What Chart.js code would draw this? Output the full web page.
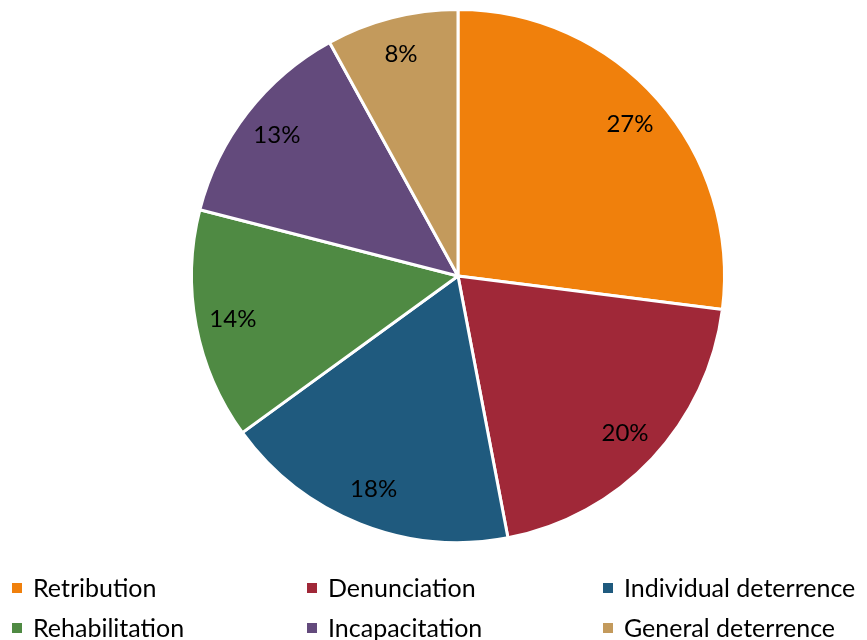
<!DOCTYPE html>
<html>
<head>
<meta charset="utf-8">
<script src="https://cdn.jsdelivr.net/npm/chart.js@4/dist/chart.umd.min.js"></script>
<style>
  html, body { margin: 0; padding: 0; background: #fff; }
  #box { width: 867px; height: 640px; }
</style>
</head>
<body>
<div id="box"><canvas id="pieChart"></canvas></div>
<script>
var labels = ['Retribution', 'Denunciation', 'Individual deterrence', 'Rehabilitation', 'Incapacitation', 'General deterrence'];
var shares = [27, 20, 18, 14, 13, 8];
var colors = ['#F0800C', '#A02838', '#1F5A7E', '#4F8A43', '#634A7C', '#C39A5C'];

var FONT = 'Lato, "Open Sans", sans-serif';

// percent text inside each slice
var sliceLabels = {
  id: 'sliceLabels',
  afterDatasetsDraw: function(chart) {
    var ctx = chart.ctx;
    var meta = chart.getDatasetMeta(0);
    ctx.save();
    ctx.font = '24px ' + FONT;
    ctx.fillStyle = '#000';
    ctx.textAlign = 'center';
    ctx.textBaseline = 'middle';
    meta.data.forEach(function(arc, i) {
      var p = arc.getProps(['x', 'y', 'startAngle', 'endAngle', 'outerRadius'], true);
      var mid = (p.startAngle + p.endAngle) / 2;
      var r = p.outerRadius * 0.86;
      ctx.fillText(shares[i] + '%', p.x + Math.cos(mid) * r, p.y + Math.sin(mid) * r);
    });
    ctx.restore();
  }
};

// three-column legend under the pie
var gridLegend = {
  id: 'gridLegend',
  afterDraw: function(chart) {
    var ctx = chart.ctx;
    var colX = [12, 307, 603];
    var rowY = [588, 628];
    ctx.save();
    ctx.font = '25px ' + FONT;
    ctx.textBaseline = 'middle';
    labels.forEach(function(name, i) {
      var x = colX[i % 3];
      var y = rowY[Math.floor(i / 3)];
      ctx.fillStyle = colors[i];
      ctx.fillRect(x, y - 5, 10, 10);
      ctx.fillStyle = '#000';
      ctx.fillText(name, x + 21, y + 1);
    });
    ctx.restore();
  }
};

const pieChart = new Chart(document.getElementById('pieChart'), {
  type: 'pie',
  data: {
    labels: labels,
    datasets: [{
      data: shares,
      backgroundColor: colors,
      borderColor: '#fff',
      borderWidth: 3
    }]
  },
  options: {
    responsive: true,
    maintainAspectRatio: false,
    animation: false,
    layout: { padding: { top: 8, bottom: 96, left: 49, right: 0 } },
    plugins: {
      legend: { display: false },
      tooltip: { enabled: false }
    }
  },
  plugins: [sliceLabels, gridLegend]
});
</script>
</body>
</html>
